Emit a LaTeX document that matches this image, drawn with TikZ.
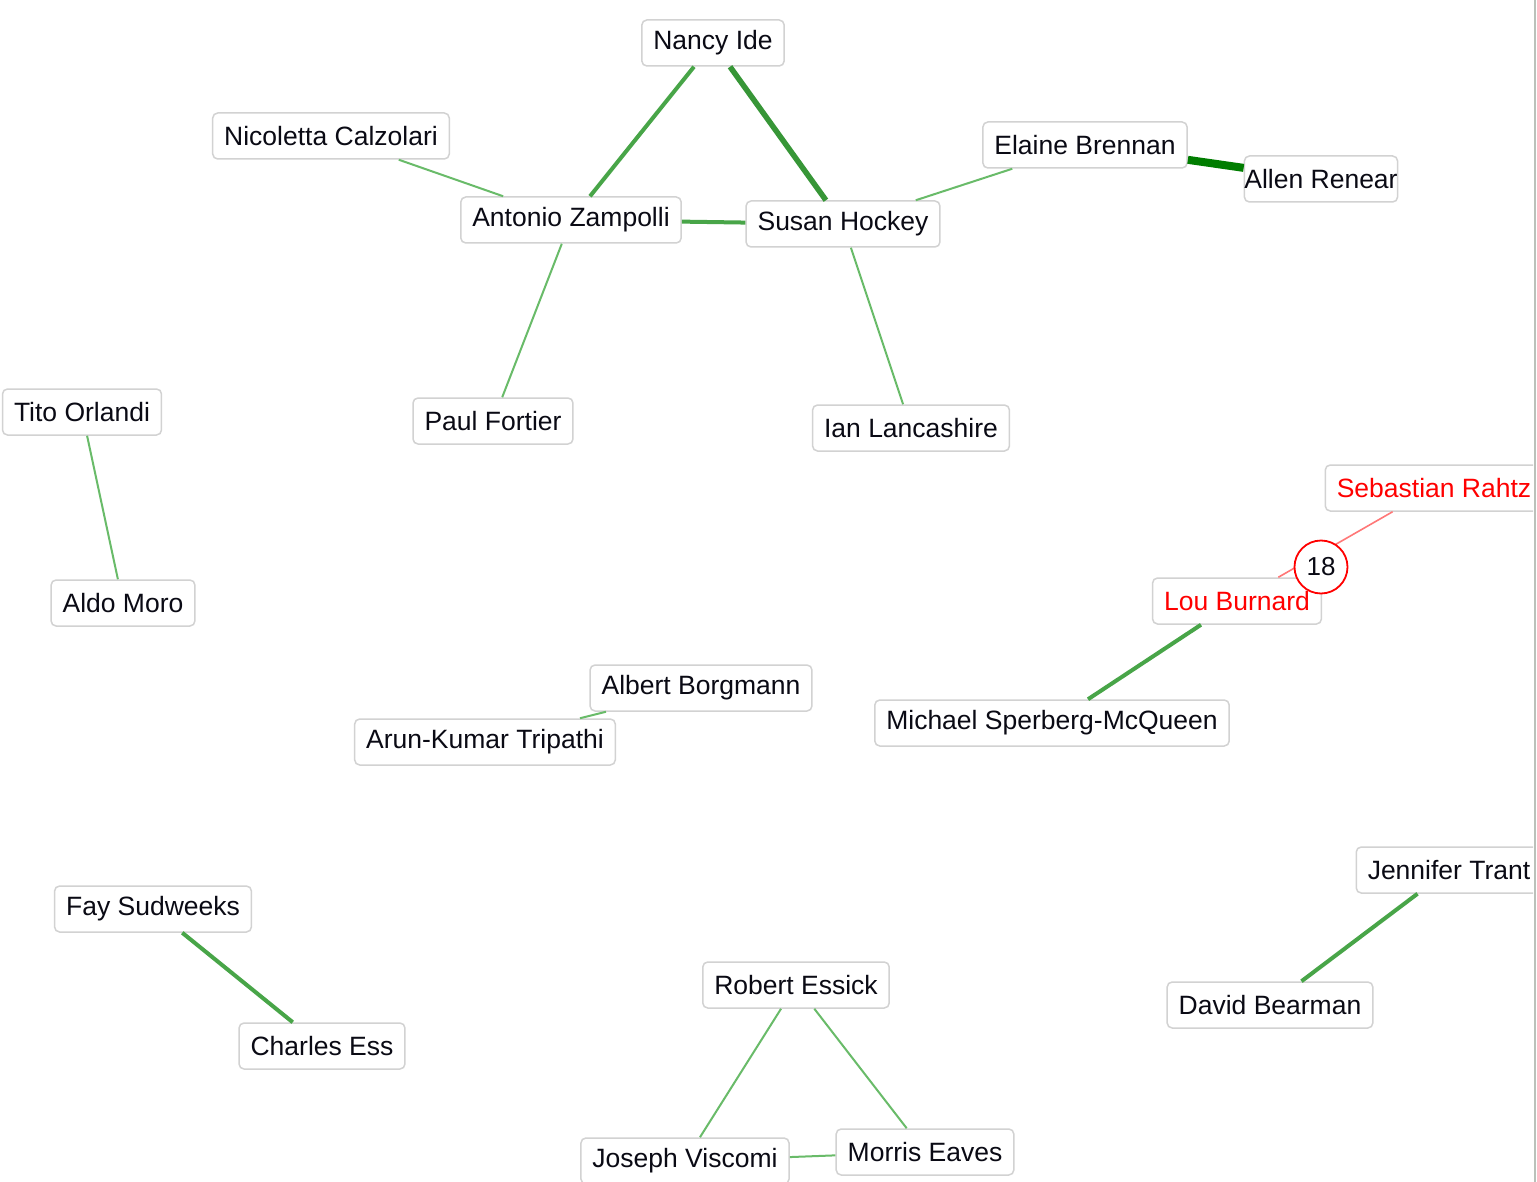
\documentclass[tikz,border=0pt]{standalone}
\usepackage{fontspec}
\setmainfont{Liberation Sans}
\definecolor{edgelight}{RGB}{105,187,105}
\definecolor{edgemed}{RGB}{72,165,72}
\definecolor{edgeheavy}{RGB}{55,150,55}
\definecolor{edgedark}{RGB}{0,125,0}
\definecolor{edgered}{RGB}{255,120,120}
\definecolor{boxline}{RGB}{210,210,210}
\definecolor{framegray}{RGB}{186,193,186}
\definecolor{txt}{RGB}{10,10,20}
\begin{document}
\begin{tikzpicture}[x=1pt,y=-1pt,
  person/.style={draw=boxline, line width=1.5pt, fill=white, rounded corners=5pt,
    inner xsep=11.5pt, inner ysep=0pt, minimum height=46pt,
    font=\fontsize{26.5}{30}\selectfont, text=txt},
  light/.style={draw=edgelight, line width=2pt},
  medium/.style={draw=edgemed, line width=4pt},
  heavy/.style={draw=edgeheavy, line width=5.5pt},
  strongest/.style={draw=edgedark, line width=8pt},
  redline/.style={draw=edgered, line width=1.6pt},
  countbadge/.style={circle, draw=red, line width=1.8pt, fill=white, minimum size=53pt,
    inner sep=0pt, font=\fontsize{26}{30}\selectfont, text=txt}
]
\useasboundingbox (0,0) rectangle (1537,1182);
\fill[white] (0,0) rectangle (1537,1182);
\begin{scope}
\clip (0,0) rectangle (1533,1182);
% nodes
\node[person] (nancy) at (713,43) {Nancy Ide};
\node[person] (nicoletta) at (331,136) {Nicoletta Calzolari};
\node[person] (antonio) at (571,220) {Antonio Zampolli};
\node[person] (susan) at (843,224) {Susan Hockey};
\node[person] (elaine) at (1085,145) {Elaine Brennan};
\node[person, inner xsep=0pt] (allen) at (1321,179) {Allen Renear};
\node[person] (paul) at (493,421) {Paul Fortier};
\node[person] (ian) at (911,428) {Ian Lancashire};
\node[person] (tito) at (82,412) {Tito Orlandi};
\node[person] (aldo) at (123,603) {Aldo Moro};
\node[person, text=red] (sebastian) at (1434,488) {Sebastian Rahtz};
\node[person, text=red] (lou) at (1237,601) {Lou Burnard};
\node[person] (michael) at (1052,723) {Michael Sperberg-McQueen};
\node[person] (albert) at (701,688) {Albert Borgmann};
\node[person] (arun) at (485,742) {Arun-Kumar Tripathi};
\node[person] (fay) at (153,909) {Fay Sudweeks};
\node[person] (charles) at (322,1046) {Charles Ess};
\node[person] (robert) at (796,985) {Robert Essick};
\node[person] (joseph) at (685,1161) {Joseph Viscomi};
\node[person] (morris) at (925,1152) {Morris Eaves};
\node[person] (jennifer) at (1449,870) {Jennifer Trant};
\node[person] (david) at (1270,1005) {David Bearman};
% edges
\draw[medium] (nancy) -- (antonio);
\draw[heavy] (nancy) -- (susan);
\draw[medium] (antonio) -- (susan);
\draw[light] (nicoletta) -- (antonio);
\draw[light] (antonio) -- (paul);
\draw[light] (susan) -- (ian);
\draw[light] (susan) -- (elaine);
\draw[strongest] (elaine) -- (allen);
\draw[light] (tito) -- (aldo);
\draw[redline] (sebastian) -- (lou);
\draw[medium] (lou) -- (michael);
\draw[light] (albert) -- (arun);
\draw[medium] (fay) -- (charles);
\draw[light] (robert) -- (joseph);
\draw[light] (robert) -- (morris);
\draw[light] (joseph) -- (morris);
\draw[medium] (jennifer) -- (david);
% badge
\node[countbadge] (count) at (1321,567) {18};
\end{scope}
\draw[draw=framegray, line width=2.5pt] (1535,0) -- (1535,1182);
\end{tikzpicture}
\end{document}
